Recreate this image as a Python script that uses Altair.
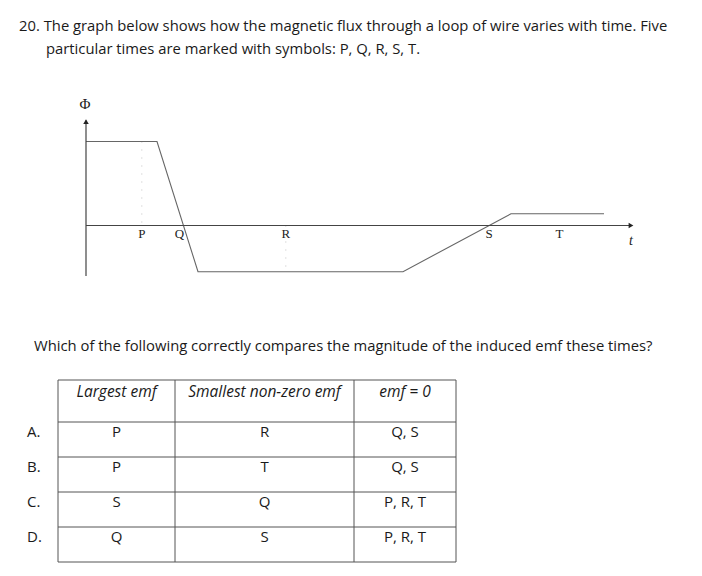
import altair as alt
import pandas as pd

# ---------------- data ----------------
title_lines = [
    "20. The graph below shows how the magnetic flux through a loop of wire varies with time. Five",
    "particular times are marked with symbols: P, Q, R, S, T.",
]
question = "Which of the following correctly compares the magnitude of the induced emf these times?"

# flux curve (t, Phi)
flux_t = [0, 3.55, 5.6, 15.85, 21.25, 25.9]
flux_phi = [4.0, 4.0, -2.2, -2.2, 0.56, 0.56]

marker_names = ["P", "Q", "R", "S", "T"]
marker_t = [2.79, 4.67, 9.99, 20.15, 23.67]

options = ["A.", "B.", "C.", "D."]
headers = ["Largest emf", "Smallest non-zero emf", "emf = 0"]
largest = ["P", "P", "S", "Q"]
smallest = ["R", "T", "Q", "S"]
zero_emf = ["Q, S", "Q, S", "P, R, T", "P, R, T"]

# ---------------- layout (chart pixel coords = page - 8) ----------------
W, H = 686, 558
OFF = 8
gx = alt.Scale(domain=[0, 30], range=[86 - OFF, 86 - OFF + 600], nice=False, zero=False)
gy = alt.Scale(domain=[-3, 6], range=[225.5 - OFF + 63, 225.5 - OFF - 126], nice=False, zero=False)

col_edges = [0, 117, 296, 398]
row_edges = [0, 1.2, 2.2, 3.2, 4.2, 5.2]
tx = alt.Scale(domain=[0, 398], range=[58 - OFF, 456 - OFF], nice=False, zero=False)
ty = alt.Scale(domain=[0, 5.2], range=[380 - OFF, 562 - OFF], nice=False, zero=False)

LINE = "#555555"
SANS = "Open Sans"
SERIF = "Liberation Serif"
INK = "#1a1a1a"

# ---------------- graph ----------------
flux_df = pd.DataFrame({"t": flux_t, "phi": flux_phi, "o": range(len(flux_t))})
flux = alt.Chart(flux_df).mark_line(color="#666666", strokeWidth=1.1).encode(
    x=alt.X("t:Q", scale=gx, axis=None),
    y=alt.Y("phi:Q", scale=gy, axis=None),
    order="o:Q",
)

axes_df = pd.DataFrame({"x": [0, 0], "y": [-2.4, 0], "x2": [0, 27.2], "y2": [5.0, 0]})
axes = alt.Chart(axes_df).mark_rule(color="#444444", strokeWidth=1.2).encode(
    x=alt.X("x:Q", scale=gx, axis=None), x2="x2:Q",
    y=alt.Y("y:Q", scale=gy, axis=None), y2="y2:Q",
)

arrow_up = alt.Chart(pd.DataFrame({"x": [0], "y": [4.95]})).mark_point(
    shape="triangle-up", filled=True, color="#222222", size=30, opacity=1
).encode(x=alt.X("x:Q", scale=gx, axis=None), y=alt.Y("y:Q", scale=gy, axis=None))
arrow_right = alt.Chart(pd.DataFrame({"x": [27.25], "y": [0]})).mark_point(
    shape="triangle-right", filled=True, color="#222222", size=30, opacity=1
).encode(x=alt.X("x:Q", scale=gx, axis=None), y=alt.Y("y:Q", scale=gy, axis=None))

guides_df = pd.DataFrame({"t": [marker_t[0], marker_t[2]], "a": [4.0, 0.0], "b": [0.0, -2.0]})
guides = alt.Chart(guides_df).mark_rule(color="#c4c4c4", strokeWidth=1, strokeDash=[1, 7]).encode(
    x=alt.X("t:Q", scale=gx, axis=None),
    y=alt.Y("a:Q", scale=gy, axis=None), y2="b:Q",
)

labels_df = pd.DataFrame({"t": marker_t, "phi": [-0.4] * 5, "name": marker_names})
labels = alt.Chart(labels_df).mark_text(font=SERIF, fontSize=13, color="#222222", baseline="middle").encode(
    x=alt.X("t:Q", scale=gx, axis=None), y=alt.Y("phi:Q", scale=gy, axis=None), text="name:N"
)

phi_name = alt.Chart(pd.DataFrame({"t": [-0.05], "phi": [5.8], "s": ["Φ"]})).mark_text(
    font=SERIF, fontSize=15, color="#222222", baseline="middle"
).encode(x=alt.X("t:Q", scale=gx, axis=None), y=alt.Y("phi:Q", scale=gy, axis=None), text="s:N")
t_name = alt.Chart(pd.DataFrame({"t": [27.25], "phi": [-0.72], "s": ["t"]})).mark_text(
    font=SERIF, fontSize=14, fontStyle="italic", color="#222222", baseline="middle"
).encode(x=alt.X("t:Q", scale=gx, axis=None), y=alt.Y("phi:Q", scale=gy, axis=None), text="s:N")

# ---------------- texts ----------------
def line_text(txt, x, y):
    return alt.Chart(pd.DataFrame({"s": [txt]})).mark_text(
        font=SANS, fontSize=14.8, color=INK, align="left", baseline="middle"
    ).encode(x=alt.value(x - OFF), y=alt.value(y - OFF), text="s:N")

t1 = line_text(title_lines[0], 19, 27)
t2 = line_text(title_lines[1], 46, 50)
q = line_text(question, 34, 347)

# ---------------- table ----------------
hl = pd.DataFrame({"y": row_edges, "x": [0] * len(row_edges), "x2": [398] * len(row_edges)})
hrules = alt.Chart(hl).mark_rule(color=LINE, strokeWidth=1).encode(
    x=alt.X("x:Q", scale=tx, axis=None), x2="x2:Q", y=alt.Y("y:Q", scale=ty, axis=None)
)
vl = pd.DataFrame({"x": col_edges, "y": [0] * len(col_edges), "y2": [5.2] * len(col_edges)})
vrules = alt.Chart(vl).mark_rule(color=LINE, strokeWidth=1).encode(
    x=alt.X("x:Q", scale=tx, axis=None), y=alt.Y("y:Q", scale=ty, axis=None), y2="y2:Q"
)

centers = [(col_edges[i] + col_edges[i + 1]) / 2 for i in range(3)]
head_df = pd.DataFrame({"x": centers, "y": [0.33] * 3, "s": headers})
head = alt.Chart(head_df).mark_text(font=SANS, fontSize=15.5, fontStyle="italic", color=INK,
                                     baseline="middle").encode(
    x=alt.X("x:Q", scale=tx, axis=None), y=alt.Y("y:Q", scale=ty, axis=None), text="s:N"
)

cells = []
for i in range(4):
    for j, col in enumerate([largest, smallest, zero_emf]):
        cells.append({"x": centers[j], "y": 1.49 + i, "s": col[i]})
cell_df = pd.DataFrame(cells)
cell_text = alt.Chart(cell_df).mark_text(font=SANS, fontSize=15, color=INK, baseline="middle").encode(
    x=alt.X("x:Q", scale=tx, axis=None), y=alt.Y("y:Q", scale=ty, axis=None), text="s:N"
)
opt_df = pd.DataFrame({"x": [-31] * 4, "y": [1.49 + i for i in range(4)], "s": options})
opt_text = alt.Chart(opt_df).mark_text(font=SANS, fontSize=15, color=INK, align="left",
                                        baseline="middle").encode(
    x=alt.X("x:Q", scale=tx, axis=None), y=alt.Y("y:Q", scale=ty, axis=None), text="s:N"
)

graph = alt.layer(guides, flux, axes, arrow_up, arrow_right, labels, phi_name, t_name)
table = alt.layer(hrules, vrules, head, cell_text, opt_text)

chart = alt.layer(graph, table, t1, t2, q).resolve_scale(
    x="independent", y="independent"
).properties(
    width=W, height=H, padding=0, autosize=alt.AutoSizeParams(type="none"),
    background="white",
).configure_view(stroke=None)

chart.save("out.html", embed_options={"renderer": "svg", "actions": False})
